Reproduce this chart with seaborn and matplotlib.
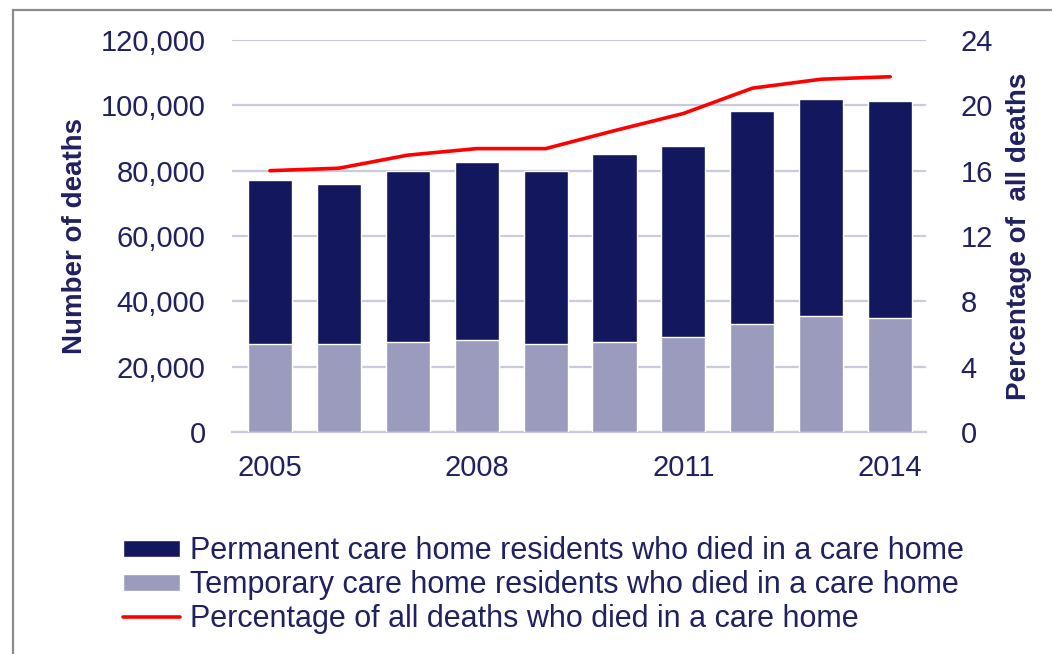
import matplotlib
matplotlib.use("Agg")
import matplotlib.pyplot as plt
import seaborn as sns
import pandas as pd
from matplotlib.patches import Rectangle

# data
years = [2005, 2006, 2007, 2008, 2009, 2010, 2011, 2012, 2013, 2014]
total_deaths = [77100, 75900, 79900, 82600, 79900, 85100, 87500, 98300, 101900, 101300]
temporary = [26900, 26900, 27500, 28200, 26900, 27500, 29100, 33100, 35500, 34900]
pct_all_deaths = [16.0, 16.15, 16.95, 17.35, 17.35, 18.45, 19.5, 21.05, 21.6, 21.75]

y_ticks = [0, 20000, 40000, 60000, 80000, 100000, 120000]
y2_ticks = [0, 4, 8, 12, 16, 20, 24]
x_ticks = [2005, 2008, 2011, 2014]

labels = ["Permanent care home residents who died in a care home",
          "Temporary care home residents who died in a care home",
          "Percentage of all deaths who died in a care home"]

df = pd.DataFrame({"year": years, "total": total_deaths,
                   "temporary": temporary, "pct": pct_all_deaths})

NAVY = "#12175E"
LIGHT = "#9B9BBD"
TEXT = "#1F2160"
GRID = "#CACADD"

sns.set_style("white")
plt.rcParams["font.family"] = ["Liberation Sans", "DejaVu Sans"]

fig = plt.figure(figsize=(10.52, 6.54), dpi=100)
ax = fig.add_axes([232 / 1052, 1 - 432 / 654, (926 - 232) / 1052, (432 - 40) / 654])

# stacked bars: draw total in navy, then temporary over it
sns.barplot(data=df, x="year", y="total", native_scale=True, color=NAVY,
            width=0.64, saturation=1, ax=ax, zorder=2, label=labels[0])
sns.barplot(data=df, x="year", y="temporary", native_scale=True, color=LIGHT,
            width=0.64, saturation=1, ax=ax, zorder=3, label=labels[1])

ax.set_ylim(0, 120000)
ax.set_yticks(y_ticks)
ax.set_yticklabels([f"{v:,}" for v in y_ticks])
ax.set_xlim(2004.45, 2014.52)
ax.set_xticks(x_ticks)
ax.set_xticklabels([str(v) for v in x_ticks])
ax.yaxis.grid(True, color=GRID, lw=1.6, zorder=0)
ax.set_axisbelow(True)
for s in ["top", "left", "right"]:
    ax.spines[s].set_visible(False)
ax.spines["bottom"].set_color(GRID)
ax.spines["bottom"].set_linewidth(1.6)
ax.tick_params(axis="y", length=0, pad=19, labelsize=21, labelcolor=TEXT)
ax.tick_params(axis="x", length=0, pad=16, labelsize=21, labelcolor=TEXT)
ax.set_xlabel("")
ax.set_ylabel("Number of deaths", fontsize=20, fontweight="bold", color=TEXT, labelpad=9)

ax2 = ax.twinx()
sns.lineplot(data=df, x="year", y="pct", color="#FF0000", lw=2.6, ax=ax2, label=labels[2])
ax2.set_ylim(0, 24)
ax2.set_yticks(y2_ticks)
ax2.set_yticklabels([str(v) for v in y2_ticks])
for s in ax2.spines.values():
    s.set_visible(False)
ax2.tick_params(axis="y", length=0, pad=25, labelsize=21, labelcolor=TEXT)
ax2.set_ylabel("Percentage of  all deaths", fontsize=20, fontweight="bold", color=TEXT, labelpad=9)

h1, l1 = ax.get_legend_handles_labels()
h2, l2 = ax2.get_legend_handles_labels()
if ax.get_legend():
    ax.get_legend().remove()
if ax2.get_legend():
    ax2.get_legend().remove()
fig.legend(h1 + h2, l1 + l2, loc="upper left", bbox_to_anchor=(108 / 1052, 1 - 521 / 654),
           frameon=False, fontsize=22, labelcolor=TEXT, handlelength=1.87,
           handleheight=0.48, handletextpad=0.33, labelspacing=0.12, borderpad=0)

# grey frame around the chart
fig.add_artist(Rectangle((13 / 1052, -0.05), 1.1, 1 - 10 / 654 + 0.05,
                         transform=fig.transFigure, fill=False,
                         edgecolor="#8C8C8C", lw=1.6))

fig.savefig("out.png", dpi=100)
